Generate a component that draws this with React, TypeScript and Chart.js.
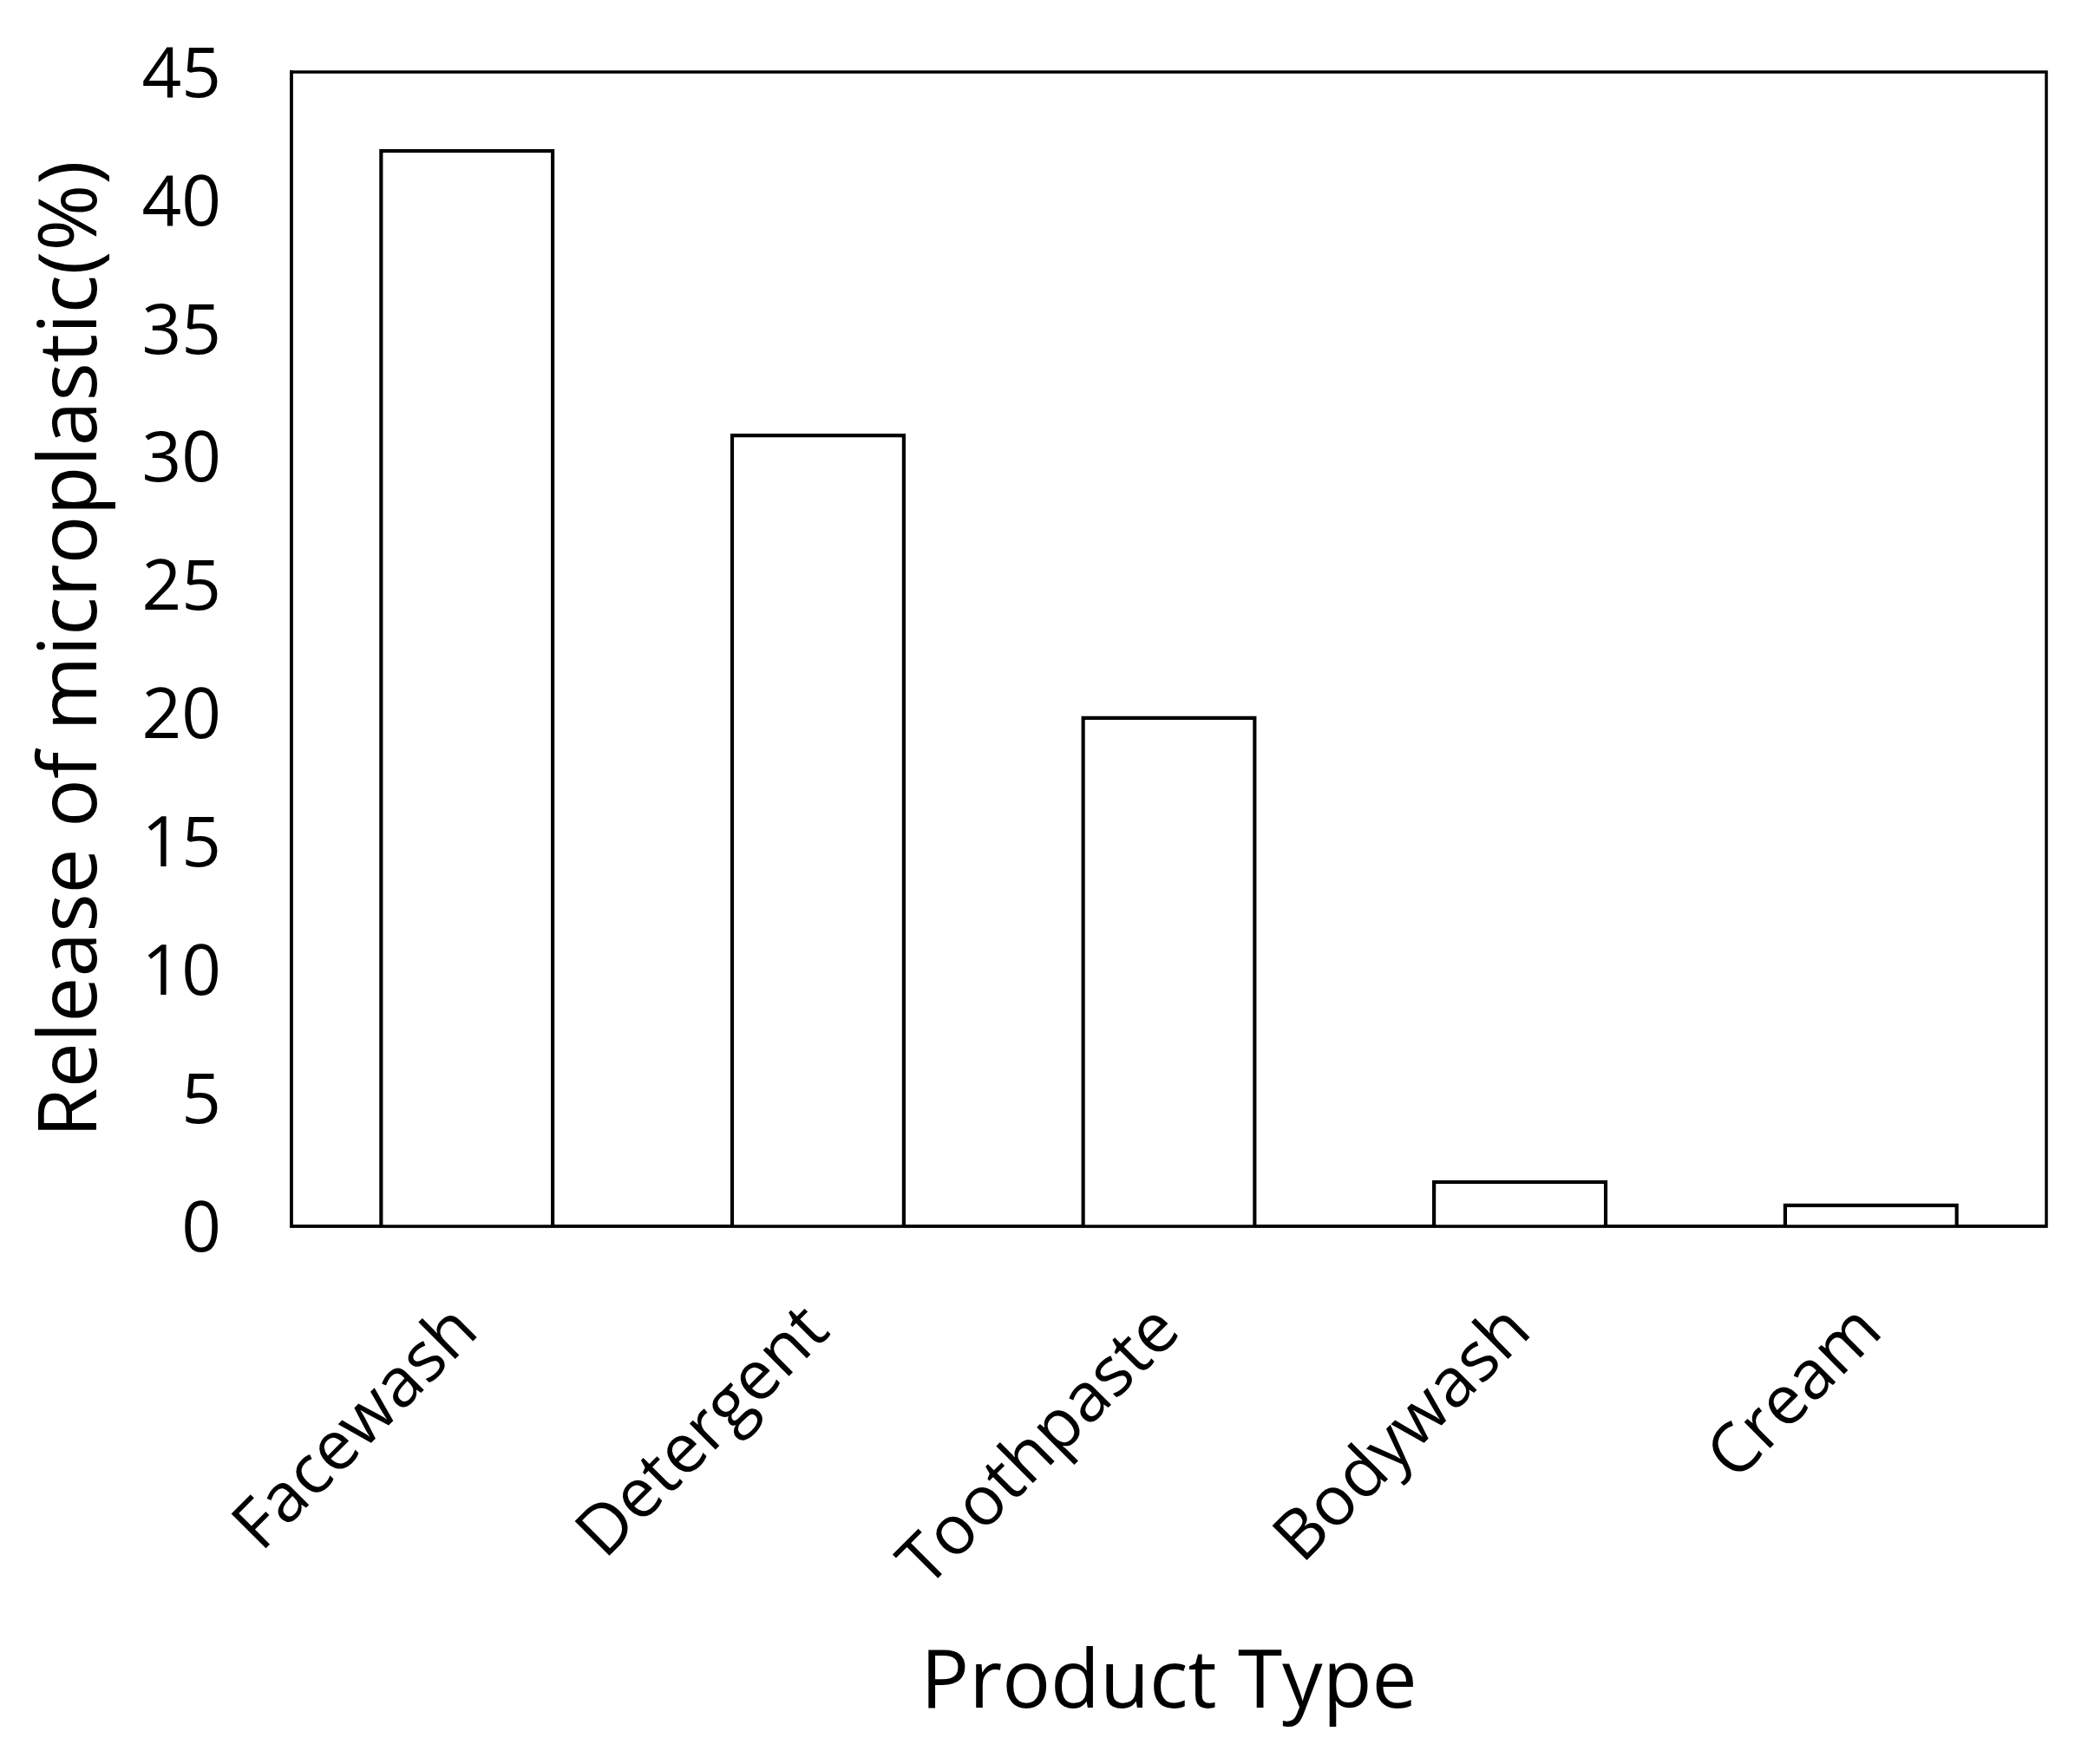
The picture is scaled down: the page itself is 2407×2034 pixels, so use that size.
import React, { useEffect, useRef } from "react";
import { Chart, registerables } from "chart.js";

Chart.register(...registerables);

const categories = ["Facewash", "Detergent", "Toothpaste", "Bodywash", "Cream"];
const releaseValues = [42, 30.9, 19.9, 1.8, 0.9];
const yTicks = [0, 5, 10, 15, 20, 25, 30, 35, 40, 45];
const yTitle = "Release of microplastic(%)";
const xTitle = "Product Type";

const W = 2407;
const H = 2034;
const FONT = "'Open Sans', 'Noto Sans', sans-serif";

const frame = {
  id: "frame",
  afterDatasetsDraw(chart: any) {
    const { ctx, chartArea } = chart;
    ctx.save();
    ctx.strokeStyle = "#000";
    ctx.lineWidth = 3.5;
    ctx.strokeRect(chartArea.left, chartArea.top, chartArea.right - chartArea.left, chartArea.bottom - chartArea.top);
    ctx.restore();
  },
};

export default function App() {
  const ref = useRef<HTMLCanvasElement | null>(null);
  useEffect(() => {
    if (!ref.current) return;
    const chart = new Chart(ref.current, {
      type: "bar",
      data: {
        labels: categories,
        datasets: [
          {
            data: releaseValues,
            backgroundColor: "#ffffff",
            borderColor: "#000000",
            borderWidth: 4.5,
            barPercentage: 0.5,
            categoryPercentage: 1,
          },
        ],
      },
      plugins: [frame],
      options: {
        responsive: false,
        animation: false,
        layout: { padding: { left: 0, right: 48, top: 83, bottom: 0 } },
        plugins: { legend: { display: false }, tooltip: { enabled: false } },
        scales: {
          x: {
            grid: { display: false, drawTicks: false },
            border: { display: true, color: "#000", width: 3.5 },
            ticks: {
              color: "#000",
              font: { family: FONT, size: 79 },
              maxRotation: 45,
              minRotation: 45,
              padding: 74,
            },
            title: {
              display: true,
              text: xTitle,
              color: "#000",
              font: { family: FONT, size: 93 },
              padding: { top: 0, bottom: 36 },
            },
            afterFit: (s: any) => {
              s.height = H - 1414;
              s.paddingLeft = 0;
              s.paddingRight = 0;
            },
          },
          y: {
            min: 0,
            max: 45,
            afterBuildTicks: (s: any) => {
              s.ticks = yTicks.map((v) => ({ value: v }));
            },
            grid: { display: false, drawTicks: false },
            border: { display: true, color: "#000", width: 3.5 },
            ticks: {
              color: "#000",
              font: { family: FONT, size: 80 },
              padding: 81,
              labelOffset: 6,
            },
            title: {
              display: true,
              text: yTitle,
              color: "#000",
              font: { family: FONT, size: 93 },
              padding: { top: 29, bottom: 0 },
            },
            afterFit: (s: any) => {
              s.width = 336;
              s.paddingTop = 0;
              s.paddingBottom = 0;
            },
          },
        },
      },
    });
    return () => chart.destroy();
  }, []);
  return (
    <div style={{ position: "absolute", left: 0, top: 0, width: W, height: H, background: "#fff" }}>
      <canvas ref={ref} width={W} height={H} style={{ width: W, height: H, display: "block" }} />
    </div>
  );
}
